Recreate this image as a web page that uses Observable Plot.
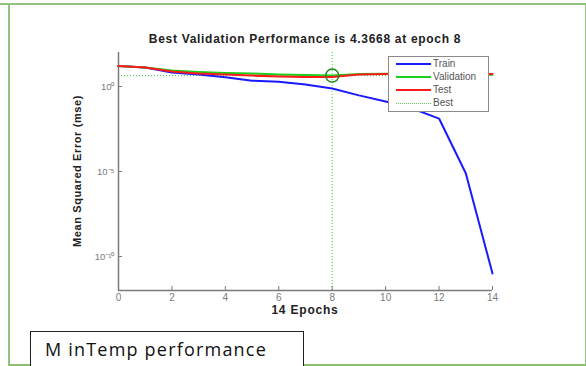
<!DOCTYPE html>
<html><head><meta charset="utf-8">
<script src="https://cdn.jsdelivr.net/npm/d3@7"></script>
<script src="https://cdn.jsdelivr.net/npm/@observablehq/plot@0.6"></script>
<style>
body{margin:0;background:#fff;font-family:"Liberation Sans",Arial,sans-serif;}
#wrap{position:relative;width:586px;height:366px;overflow:hidden;}
#wrap svg{position:absolute;left:0;top:0;}
.abs{position:absolute;white-space:nowrap;}
</style></head><body>
<div id="wrap"></div>
<script>
const epochs = [0,1,2,3,4,5,6,7,8,9,10,11,12,13,14];
const train = [15.8,13.2,6.6,5.0,3.5,2.2,1.9,1.3,0.76,0.30,0.13,0.051,0.013,7.9e-6,1e-11];
const validation = [15.8,13.2,8.7,7.1,6.2,5.8,5.1,4.7,4.3668,5.5,5.6,5.6,5.6,5.5,4.9];
const test = [15.8,13.2,7.6,5.8,5.1,4.4,3.9,3.6,3.6,5.1,5.4,5.4,5.4,5.4,5.4];
const bestEpoch = 8, bestValue = 4.3668;
const xTicks = [0,2,4,6,8,10,12,14];
const yTicks = [1,1e-5,1e-10];
const yTickLabels = ["10⁰","10⁻⁵","10⁻¹⁰"];
const seriesNames = ["Train","Validation","Test"];
const seriesColors = ["#1a1aff","#19d119","#ff1a1a"];
const title = "Best Validation Performance is 4.3668 at epoch 8";
const xLabel = "14 Epochs";
const yLabel = "Mean Squared Error  (mse)";
const caption = "M inTemp performance";

const rows = [];
[train, validation, test].forEach((arr, si) => arr.forEach((v, i) => rows.push({epoch: epochs[i], value: v, series: seriesNames[si]})));

const gray = "#7a7a7a";
const chart = Plot.plot({
  width: 586, height: 366,
  marginLeft: 118, marginRight: 94, marginTop: 52, marginBottom: 76,
  style: {fontFamily: "Liberation Sans, Arial, sans-serif", fontSize: "9px", background: "transparent"},
  x: {domain: [0, 14]},
  y: {type: "log", domain: [1e-12, 1e2]},
  color: {domain: seriesNames, range: seriesColors},
  marks: [
    Plot.ruleX([bestEpoch], {stroke: "#33cc33", strokeDasharray: "1,2", strokeWidth: 1}),
    Plot.ruleY([bestValue], {stroke: "#33cc33", strokeDasharray: "1,2", strokeWidth: 1}),
    Plot.axisX({ticks: xTicks, tickSize: -4, stroke: gray, color: gray, tickPadding: 7, label: null, fontSize: 10}),
    Plot.axisY({ticks: yTicks, tickSize: -4, stroke: gray, color: gray, tickPadding: 8, label: null, tickFormat: d => yTickLabels[yTicks.indexOf(d)], fontSize: 9.5}),
    Plot.ruleX([0], {stroke: gray, strokeWidth: 1.5}),
    Plot.ruleY([1e-12], {stroke: gray, strokeWidth: 1.5}),
    Plot.line(rows, {x: "epoch", y: "value", z: "series", stroke: "series", strokeWidth: 2}),
    Plot.dot([{epoch: bestEpoch, value: bestValue}], {x: "epoch", y: "value", r: 6.5, stroke: "#1a8a1a", strokeWidth: 1.5, fill: "none"})
  ]
});
const wrap = document.getElementById("wrap");
wrap.appendChild(chart);

function addDiv(text, style){const d=document.createElement("div");d.className="abs";d.textContent=text;Object.assign(d.style,style);wrap.appendChild(d);return d;}
// frame
addDiv("", {left:"8px", top:"3px", width:"575px", height:"359px", border:"2px solid #93c47d", borderBottomColor:"#8cc06f"});
addDiv("", {left:"0px", top:"3px", width:"9px", height:"0px", borderTop:"2px solid #93c47d"});
// title
addDiv(title, {left:"0px", width:"610px", top:"32px", textAlign:"center", fontWeight:"bold", fontSize:"12px", letterSpacing:"0.7px", color:"#222"});
addDiv(xLabel, {left:"0px", width:"610px", top:"303px", textAlign:"center", fontWeight:"bold", fontSize:"12px", letterSpacing:"0.8px", color:"#222"});
addDiv(yLabel, {left:"77px", top:"171px", transform:"translate(-50%,-50%) rotate(-90deg)", fontWeight:"bold", fontSize:"11px", letterSpacing:"0.6px", color:"#222"});
// legend
const lg = addDiv("", {left:"388px", top:"56px", width:"99px", height:"54px", border:"1px solid #8a8a8a", background:"#fff"});
const legendItems = [["Train", seriesColors[0], "solid", 2],["Validation", seriesColors[1], "solid", 2],["Test", seriesColors[2], "solid", 2],["Best", "#66cc66", "dotted", 1]];
legendItems.forEach((it, i) => {
  const line = document.createElement("div");
  Object.assign(line.style, {position:"absolute", left:"7px", top:(7 + i*13 - it[3]/2)+"px", width:"35px", height:"0px", borderTop: it[3]+"px "+it[2]+" "+it[1]});
  lg.appendChild(line);
  const t = document.createElement("div");
  t.textContent = it[0];
  Object.assign(t.style, {position:"absolute", left:"44px", top:(i*13)+"px", fontSize:"10px", color:"#555", lineHeight:"13px"});
  lg.appendChild(t);
});
// caption
addDiv(caption, {left:"30px", top:"331px", width:"274px", height:"40px", border:"1px solid #222", boxSizing:"border-box", fontSize:"18px", letterSpacing:"1.2px", paddingLeft:"14px", paddingTop:"5px", color:"#111", background:"#fff", fontFamily:"Open Sans, sans-serif"});
</script>
</body></html>
